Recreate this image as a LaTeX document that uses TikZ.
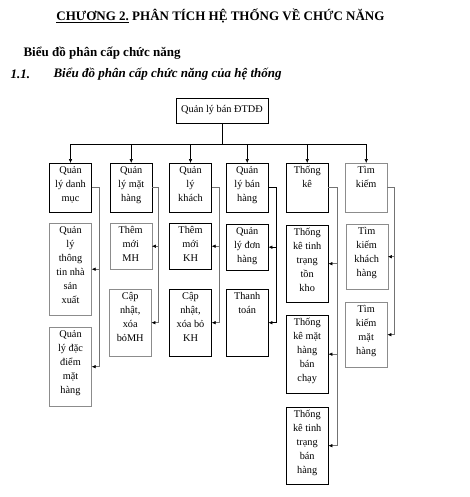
\documentclass[tikz,border=0pt]{standalone}
\usepackage{fontspec}
\setmainfont{Liberation Serif}
\usetikzlibrary{positioning,arrows.meta}
\newcommand{\boxfont}{\fontsize{10.3}{14}\selectfont}
\newcommand{\headfont}{\fontsize{13}{15}\selectfont\bfseries}

\tikzset{
  box/.style={draw=black, anchor=north west, minimum width=42pt, inner sep=0pt},
  pale/.style={draw=black!45},
  txt/.style={align=center, font=\boxfont, inner sep=2pt},
  link/.style={draw=black!55, line width=0.5pt},
  dark/.style={draw=black, line width=0.5pt}
}

\begin{document}
\begin{tikzpicture}[x=1pt, y=-1pt, >={Latex[black,length=4pt,width=3.5pt]}]
\useasboundingbox (0,0) rectangle (469,497);

% headings
\node[font=\headfont] (title) at (220.5,16) {\underline{CHƯƠNG 2.} PHÂN TÍCH HỆ THỐNG VỀ CHỨC NĂNG};
\node[anchor=west, font=\headfont] (sec) at (20,53) {Biểu đồ phân cấp chức năng};
\node[anchor=west, font=\headfont\itshape] (num) at (7,74) {1.1.};
\node[anchor=west, font=\headfont\itshape] (sub) at (50,74) {Biểu đồ phân cấp chức năng của hệ thống};

% root
\node[draw, minimum width=92pt, minimum height=25pt, font=\boxfont] (root) at (222,110.5) {Quản lý bán ĐTDĐ};

% first level
\node[box, minimum height=49pt] (a1) at (49.3,163) {};
\node[box, minimum height=49pt] (a2) at (110,163) {};
\node[box, minimum height=49pt] (a3) at (169.3,163) {};
\node[box, minimum height=49pt] (a4) at (226,163) {};
\node[box, minimum height=49pt] (a5) at (286,163) {};
\node[box, pale, minimum height=49pt] (a6) at (345,163) {};
\node[txt, below=1pt of a1.north] (t1) {Quản\\lý danh\\mục};
\node[txt, below=1pt of a2.north] (t2) {Quản\\lý mặt\\hàng};
\node[txt, below=1pt of a3.north] (t3) {Quản\\lý\\khách};
\node[txt, below=1pt of a4.north] (t4) {Quản\\lý bán\\hàng};
\node[txt, below=1pt of a5.north] (t5) {Thống\\kê};
\node[txt, below=1pt of a6.north] (t6) {Tìm\\kiếm};

% second level
\node[box, pale, minimum height=92pt] (a1b) at (49.3,223) {};
\node[box, pale, minimum height=79pt] (a1c) at (49.3,327) {};
\node[box, pale, minimum height=46pt] (a2b) at (109.5,223) {};
\node[box, pale, minimum height=67pt] (a2c) at (109,289) {};
\node[box, minimum height=46pt] (a3b) at (169.3,223) {};
\node[box, minimum height=67pt] (a3c) at (169.3,289) {};
\node[box, minimum height=46pt] (a4b) at (226,224) {};
\node[box, minimum height=67pt] (a4c) at (226,289) {};
\node[box, minimum height=77pt] (a5b) at (286,225) {};
\node[box, minimum height=78pt] (a5c) at (286,315) {};
\node[box, minimum height=77pt] (a5d) at (286,407) {};
\node[box, pale, minimum height=65pt] (a6b) at (345.5,224) {};
\node[box, pale, minimum height=65pt] (a6c) at (345,302) {};
\node[txt, below=1pt of a1b.north] (t1b) {Quản\\lý\\thông\\tin nhà\\sản\\xuất};
\node[txt, below=1pt of a1c.north] (t1c) {Quản\\lý đặc\\điểm\\mặt\\hàng};
\node[txt, below=1pt of a2b.north] (t2b) {Thêm\\mới\\MH};
\node[txt, below=1pt of a2c.north] (t2c) {Cập\\nhật,\\xóa\\bỏMH};
\node[txt, below=1pt of a3b.north] (t3b) {Thêm\\mới\\KH};
\node[txt, below=1pt of a3c.north] (t3c) {Cập\\nhật,\\xóa bỏ\\KH};
\node[txt, below=1pt of a4b.north] (t4b) {Quản\\lý đơn\\hàng};
\node[txt, below=1pt of a4c.north] (t4c) {Thanh\\toán};
\node[txt, below=1pt of a5b.north] (t5b) {Thống\\kê tinh\\trạng\\tồn\\kho};
\node[txt, below=1pt of a5c.north] (t5c) {Thống\\kê mặt\\hàng\\bán\\chạy};
\node[txt, below=1pt of a5d.north] (t5d) {Thống\\kê tinh\\trạng\\bán\\hàng};
\node[txt, below=1pt of a6b.north] (t6b) {Tìm\\kiếm\\khách\\hàng};
\node[txt, below=1pt of a6c.north] (t6c) {Tìm\\kiếm\\mặt\\hàng};

% root to first level
\draw[dark] (root.south) -- ++(0,21) coordinate (bus);
\draw[dark] (bus -| a1.north) -- (bus -| a6.north);
\foreach \i in {1,...,6}
  \draw[dark,->] (bus -| a\i.north) -- (a\i.north);

% first level to children
\coordinate (v1) at ([xshift=8pt]a1.east);
\coordinate (v2) at ([xshift=6pt]a2.east);
\coordinate (v3) at ([xshift=8pt]a3.east);
\coordinate (v4) at ([xshift=8pt]a4.east);
\coordinate (v5) at ([xshift=9pt]a5.east);
\coordinate (v6) at ([xshift=7pt]a6.east);

\draw[link,->] (a1.east) -- (v1) |- (a1c.east);
\draw[link,->] (v1 |- a1b.east) -- (a1b.east);
\draw[link,->] (a2.east) -- (v2) |- (a2c.east);
\draw[link,->] (v2 |- a2b.east) -- (a2b.east);
\draw[link,->] (a3.east) -- (v3) |- (a3c.east);
\draw[link,->] (v3 |- a3b.east) -- (a3b.east);
\draw[dark,->] (a4.east) -- (v4) |- (a4c.east);
\draw[dark,->] (v4 |- a4b.east) -- (a4b.east);
\draw[link,->] (a5.east) -- (v5) |- (a5d.east);
\draw[link,->] (v5 |- a5b.east) -- (a5b.east);
\draw[link,->] (v5 |- a5c.east) -- (a5c.east);
\draw[link,->] (a6.east) -- (v6) |- (a6c.east);
\draw[link,->] (v6 |- a6b.east) -- (a6b.east);
\end{tikzpicture}
\end{document}
